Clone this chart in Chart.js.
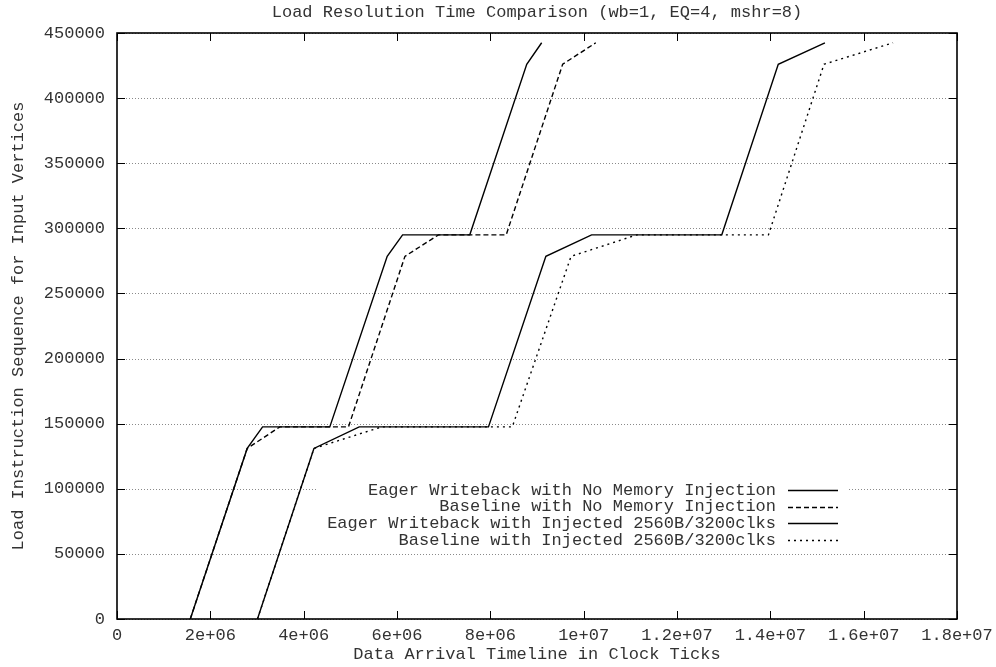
<!DOCTYPE html>
<html>
<head>
<meta charset="utf-8">
<title>Load Resolution Time Comparison</title>
<script src="https://cdn.jsdelivr.net/npm/chart.js@4.4.1/dist/chart.umd.min.js"></script>
<style>
  html, body { margin: 0; padding: 0; background: #fff; }
  #wrap { width: 996px; height: 667px; }
</style>
</head>
<body>
<div id="wrap"><canvas id="loadChart" width="996" height="667"></canvas></div>
<script>
// load sequence number reached (y) and the clock tick it arrives at (x)
const loadSeq    = [0, 131000, 147500, 147500, 278500, 295000, 295000, 426000, 442500];
const eagerNoInj = [1.57e6, 2.79e6, 3.12e6, 4.56e6, 5.79e6, 6.12e6, 7.56e6, 8.78e6, 9.10e6];
const baseNoInj  = [1.57e6, 2.79e6, 3.49e6, 4.96e6, 6.17e6, 6.89e6, 8.34e6, 9.55e6, 10.26e6];
const eagerInj   = [3.01e6, 4.22e6, 5.19e6, 7.96e6, 9.19e6, 10.17e6, 12.96e6, 14.17e6, 15.17e6];
const baseInj    = [3.01e6, 4.22e6, 5.67e6, 8.47e6, 9.73e6, 11.14e6, 13.96e6, 15.15e6, 16.63e6];

const seriesNames = [
    "Eager Writeback with No Memory Injection",
    "Baseline with No Memory Injection",
    "Eager Writeback with Injected 2560B/3200clks",
    "Baseline with Injected 2560B/3200clks"
];
const xTickLabels = ["0", "2e+06", "4e+06", "6e+06", "8e+06", "1e+07", "1.2e+07", "1.4e+07", "1.6e+07", "1.8e+07"];
const yTickLabels = ["0", "50000", "100000", "150000", "200000", "250000", "300000", "350000", "400000", "450000"];
const chartTitle = "Load Resolution Time Comparison (wb=1, EQ=4, mshr=8)";

const MONO = '"Liberation Mono", "DejaVu Sans Mono", monospace';
const TEXT = "#333";

function toPoints(xs) {
    return xs.map((x, i) => ({ x: x, y: loadSeq[i] }));
}

// dotted horizontal grid, drawn under everything else
const gridDots = {
    id: "gridDots",
    beforeDatasetsDraw(chart) {
        const { ctx, chartArea: a, scales: { y } } = chart;
        ctx.save();
        ctx.strokeStyle = "#8a8a8a";
        ctx.lineWidth = 1;
        ctx.setLineDash([1, 2]);
        y.ticks.forEach(t => {
            const py = Math.round(y.getPixelForValue(t.value)) + 0.5;
            ctx.beginPath();
            ctx.moveTo(a.left, py);
            ctx.lineTo(a.right, py);
            ctx.stroke();
        });
        ctx.restore();
    }
};

// gnuplot style key: opaque box, right aligned titles, sample line after the text
const gnuKey = {
    id: "gnuKey",
    beforeDatasetsDraw(chart) {
        const { ctx, chartArea: a } = chart;
        ctx.save();
        ctx.fillStyle = "#fff";
        ctx.fillRect(a.right - 639, a.bottom - 138, 530, 68);
        ctx.restore();
    },
    afterDatasetsDraw(chart) {
        const { ctx, chartArea: a } = chart;
        ctx.save();
        ctx.font = "17px " + MONO;
        ctx.textAlign = "right";
        ctx.textBaseline = "middle";
        chart.data.datasets.forEach((ds, i) => {
            const py = a.bottom - 129 + i * 16.7;
            ctx.fillStyle = TEXT;
            ctx.fillText(ds.label, a.right - 181, py);
            ctx.strokeStyle = ds.borderColor;
            ctx.lineWidth = ds.borderWidth;
            ctx.setLineDash(ds.borderDash || []);
            ctx.beginPath();
            ctx.moveTo(a.right - 169, Math.round(py) + 0.5);
            ctx.lineTo(a.right - 119, Math.round(py) + 0.5);
            ctx.stroke();
        });
        ctx.restore();
    }
};

// box border plus inward tick marks on all four sides, title centred over the plot
const frame = {
    id: "frame",
    afterDatasetsDraw(chart) {
        const { ctx, chartArea: a, scales: { x, y } } = chart;
        ctx.save();
        ctx.setLineDash([]);
        ctx.strokeStyle = "#000";
        ctx.lineWidth = 1;
        ctx.beginPath();
        x.ticks.forEach(t => {
            const px = Math.round(x.getPixelForValue(t.value)) + 0.5;
            ctx.moveTo(px, a.bottom); ctx.lineTo(px, a.bottom - 8);
            ctx.moveTo(px, a.top); ctx.lineTo(px, a.top + 8);
        });
        y.ticks.forEach(t => {
            const py = Math.round(y.getPixelForValue(t.value)) + 0.5;
            ctx.moveTo(a.left, py); ctx.lineTo(a.left + 8, py);
            ctx.moveTo(a.right, py); ctx.lineTo(a.right - 8, py);
        });
        ctx.stroke();
        ctx.lineWidth = 1.6;
        ctx.strokeRect(a.left, a.top, a.right - a.left, a.bottom - a.top);

        ctx.font = "17px " + MONO;
        ctx.fillStyle = TEXT;
        ctx.textAlign = "center";
        ctx.textBaseline = "middle";
        ctx.fillText(chartTitle, (a.left + a.right) / 2, a.top - 21);
        ctx.restore();
    }
};

function makeSet(label, xs, dash) {
    return {
        label: label,
        data: toPoints(xs),
        showLine: true,
        borderColor: "#000",
        borderWidth: 1.4,
        borderDash: dash,
        pointRadius: 0,
        fill: false,
        tension: 0
    };
}

const ctx = document.getElementById("loadChart").getContext("2d");

new Chart(ctx, {
    type: "scatter",
    data: {
        datasets: [
            makeSet(seriesNames[0], eagerNoInj, []),
            makeSet(seriesNames[1], baseNoInj, [5, 3]),
            makeSet(seriesNames[2], eagerInj, []),
            makeSet(seriesNames[3], baseInj, [2, 4])
        ]
    },
    options: {
        responsive: false,
        animation: false,
        devicePixelRatio: 1,
        layout: { padding: { top: 33, right: 39, bottom: 0, left: 0 } },
        plugins: {
            legend: { display: false },
            tooltip: { enabled: false },
            title: { display: false }
        },
        scales: {
            x: {
                type: "linear",
                min: 0,
                max: 1.8e7,
                afterFit(scale) {
                    scale.height = 48;
                    scale.paddingLeft = 0;
                    scale.paddingRight = 0;
                },
                grid: { display: false, drawTicks: false },
                border: { display: false },
                ticks: {
                    stepSize: 2e6,
                    autoSkip: false,
                    maxRotation: 0,
                    padding: 6,
                    color: TEXT,
                    font: { family: MONO, size: 17 },
                    callback: (v, i) => xTickLabels[i]
                },
                title: {
                    display: true,
                    text: "Data Arrival Timeline in Clock Ticks",
                    color: TEXT,
                    font: { family: MONO, size: 17 },
                    padding: { top: 0, bottom: 2 }
                }
            },
            y: {
                type: "linear",
                min: 0,
                max: 450000,
                afterFit(scale) {
                    scale.width = 117;
                    scale.paddingTop = 0;
                    scale.paddingBottom = 0;
                },
                grid: { display: false, drawTicks: false },
                border: { display: false },
                ticks: {
                    stepSize: 50000,
                    autoSkip: false,
                    padding: 12,
                    color: TEXT,
                    font: { family: MONO, size: 17 },
                    callback: (v, i) => yTickLabels[i]
                },
                title: {
                    display: true,
                    text: "Load Instruction Sequence for Input Vertices",
                    color: TEXT,
                    font: { family: MONO, size: 17 },
                    padding: { top: 8, bottom: 0 }
                }
            }
        }
    },
    plugins: [gridDots, gnuKey, frame]
});
</script>
</body>
</html>
